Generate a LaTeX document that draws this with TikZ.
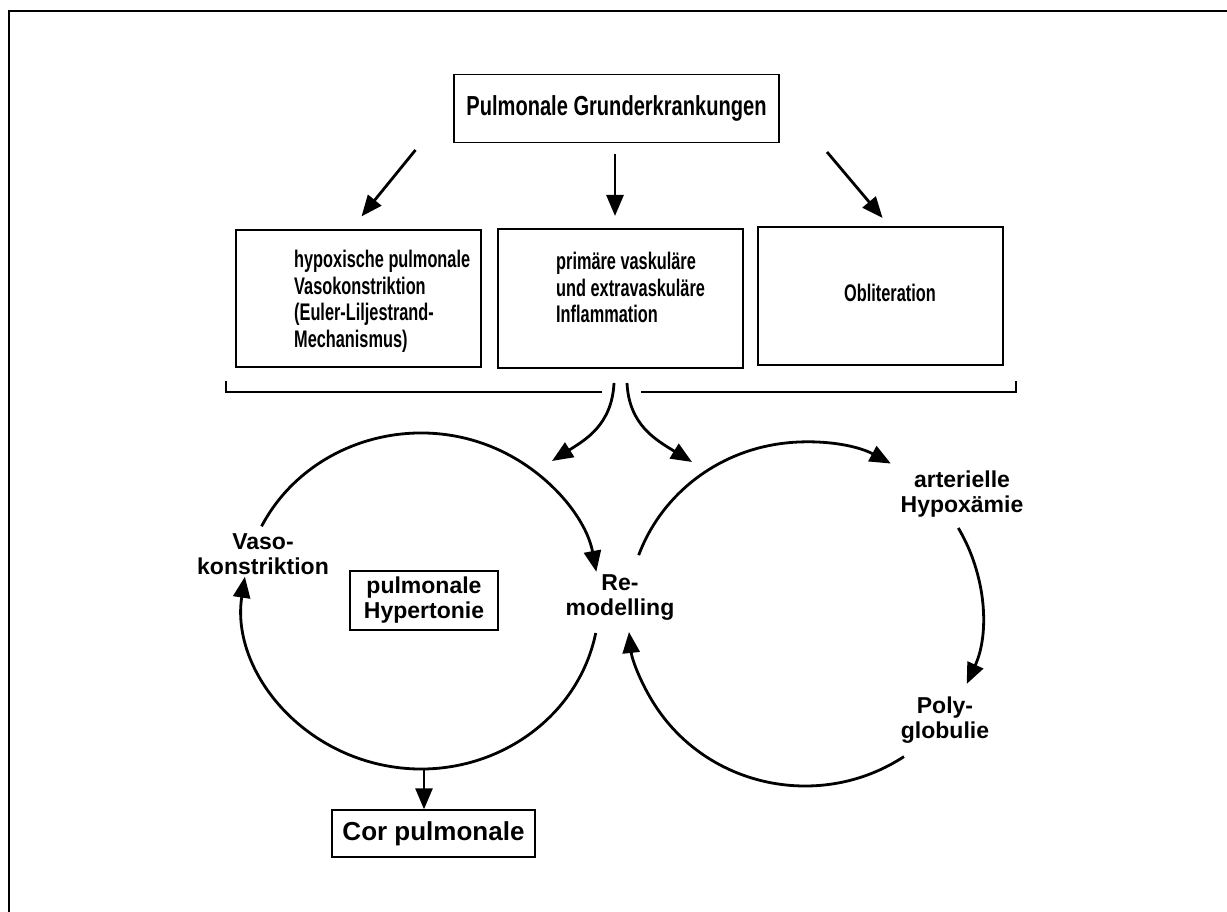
\documentclass[tikz,border=0pt]{standalone}
\usepackage{fontspec}
\setmainfont{Liberation Sans}
\newfontfamily\narrowfont[FakeStretch=0.68]{Liberation Sans}
\newfontfamily\titlefont[FakeStretch=0.73]{Liberation Sans}
\usetikzlibrary{arrows.meta}
\begin{document}
\begin{tikzpicture}[x=1pt,y=1pt,
  box/.style={draw, line width=1.4pt, inner sep=0pt},
  arr/.style={line width=2.8pt, -{Triangle[length=21pt,width=17pt]}},
  lbl/.style={font=\bfseries\fontsize{23}{25}\selectfont, align=center, inner sep=0pt},
  boxtxt/.style={font=\narrowfont\bfseries\fontsize{24}{26.5}\selectfont, align=left, inner sep=0pt}]
\useasboundingbox (0,0) rectangle (1227,912);
% frame
\draw[line width=2pt] (8.5,0) -- (8.5,901) -- (1227,901);
% title
\node[box, minimum width=325pt, minimum height=68pt,
  font=\titlefont\bfseries\fontsize{27.5}{30}\selectfont] (title) at (616.5,803.5) {Pulmonale Grunderkrankungen};
% boxes
\node[box, minimum width=245pt, minimum height=137pt] (boxA) at (358.5,613.5) {};
\node[boxtxt, anchor=north west] (tA) at (294,662) {hypoxische pulmonale\\Vasokonstriktion\\(Euler-Liljestrand-\\Mechanismus)};
\node[box, minimum width=245pt, minimum height=139pt] (boxB) at (620.5,613.5) {};
\node[boxtxt, anchor=north west] (tB) at (556,660) {primäre vaskuläre\\und extravaskuläre\\Inflammation};
\node[box, minimum width=245pt, minimum height=138pt] (boxC) at (880.5,616) {};
\node[boxtxt] (tC) at (890,619) {Obliteration};
% arrows from title
\coordinate (a1s) at (415.5,762); \coordinate (a1e) at (361.5,695.6);
\coordinate (a2s) at (615,758);   \coordinate (a2e) at (615,696);
\coordinate (a3s) at (827,760);   \coordinate (a3e) at (882.6,694);
\draw[arr] (a1s) -- (a1e);
\draw[arr] (a2s) -- (a2e);
\draw[arr] (a3s) -- (a3e);
% bracket
\draw[line width=1.4pt] (226,531) -- (226,520) -- (602,520);
\draw[line width=1.4pt] (641,520) -- (1016,520) -- (1016,531);
% curved arrows from bracket
\coordinate (c1s) at (614,529); \coordinate (c1e) at (552,451);
\coordinate (c2s) at (627,529); \coordinate (c2e) at (692,450);
\draw[arr] (c1s) .. controls (612,487) and (585,472) .. (c1e);
\draw[arr] (c2s) .. controls (629,487) and (656,472) .. (c2e);
% labels
\node[lbl] (vaso) at (263,358) {Vaso-\\konstriktion};
\node[lbl, draw, line width=1.4pt, minimum width=148pt, minimum height=59pt] (ph) at (424,311.5) {pulmonale\\Hypertonie};
\node[lbl] (remod) at (620,314) {Re-\\modelling};
\node[lbl] (hyp) at (962,418) {arterielle\\Hypoxämie};
\node[lbl] (poly) at (945,191.5) {Poly-\\globulie};
\node[box, minimum width=203pt, minimum height=47pt,
  font=\bfseries\fontsize{26}{30}\selectfont] (cor) at (433.5,78.5) {Cor pulmonale};
% left cycle
\coordinate (LC) at (421,311);
\draw[arr] ([shift={(153.6:178 and 168)}]LC) arc[start angle=153.6, end angle=10, x radius=178, y radius=168];
\draw[arr] ([shift={(-11:178 and 168)}]LC) arc[start angle=-11, end angle=-188.3, x radius=178, y radius=168];
\coordinate (Lbot) at (424,143.5);
\draw[arr] (Lbot) -- (Lbot |- cor.north);
% right cycle
\coordinate (RC) at (805,298);
\draw[arr] ([shift={(160:177 and 172)}]RC) arc[start angle=160, end angle=61, x radius=177, y radius=172];
\draw[arr] ([shift={(30:177 and 172)}]RC) arc[start angle=30, end angle=-24, x radius=177, y radius=172];
\draw[arr] ([shift={(-56:177 and 172)}]RC) arc[start angle=-56, end angle=-174, x radius=177, y radius=172];
\end{tikzpicture}
\end{document}
